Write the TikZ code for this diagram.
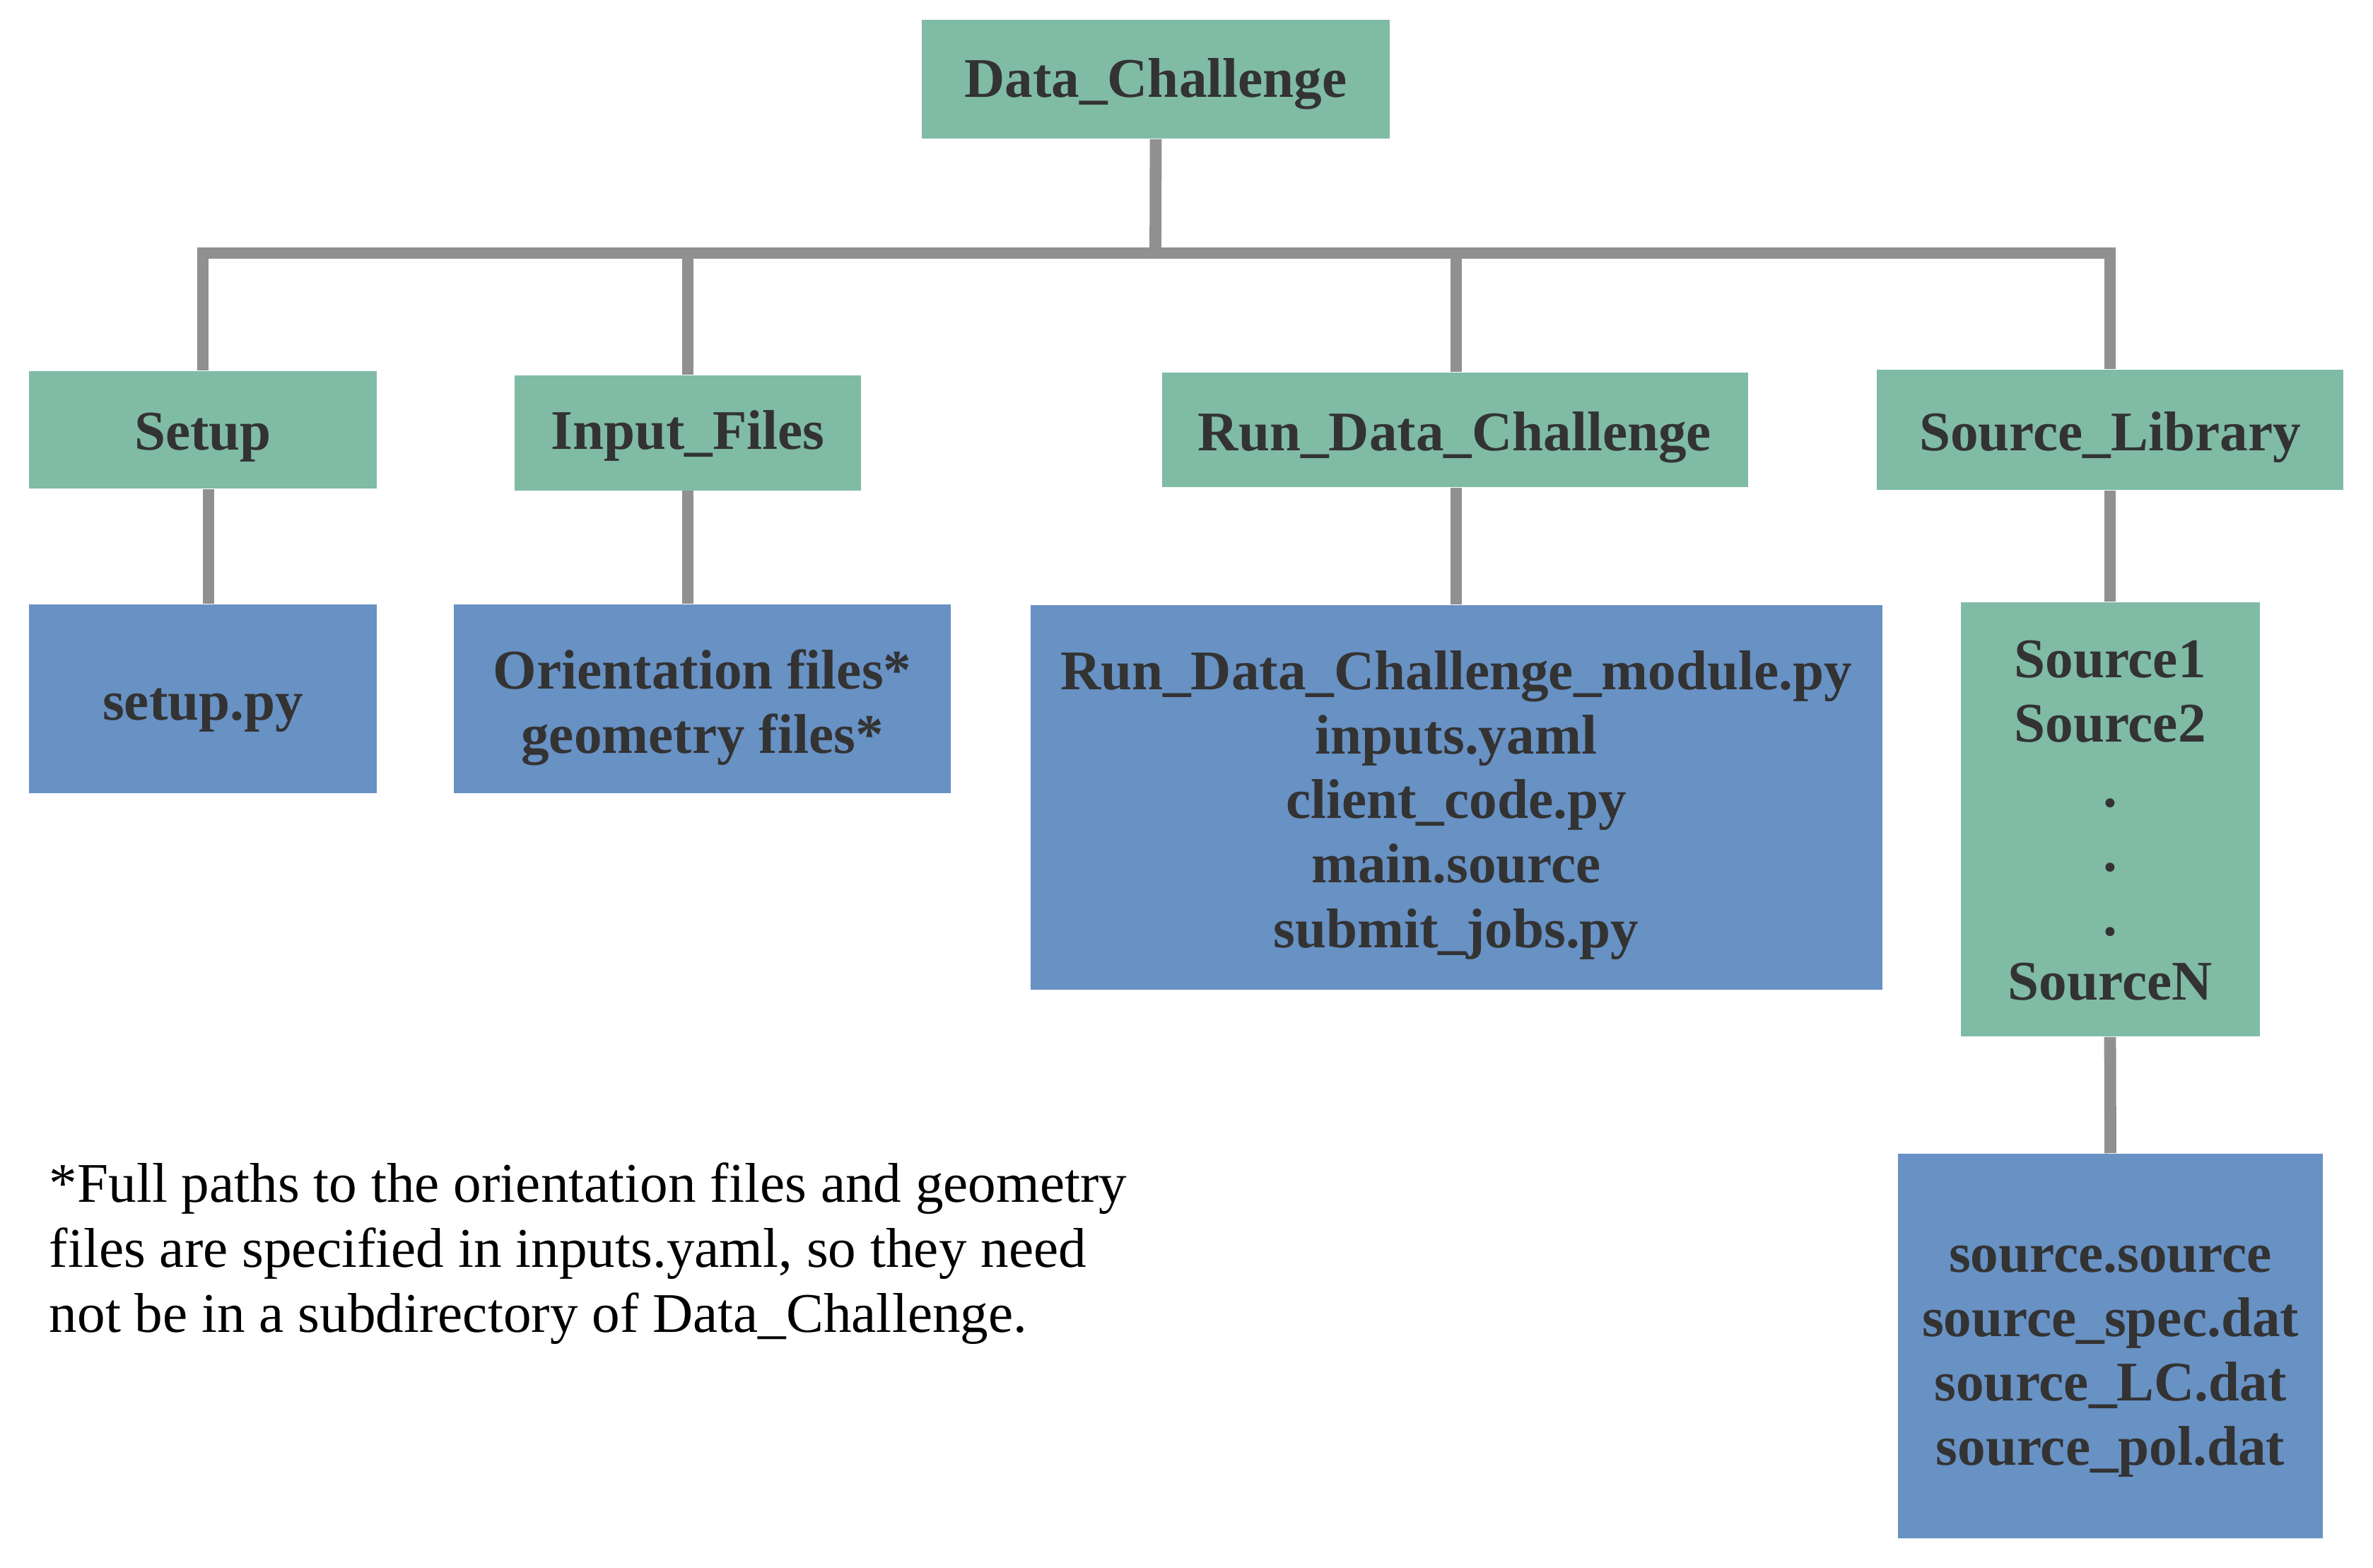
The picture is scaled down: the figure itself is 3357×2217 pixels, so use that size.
\documentclass[tikz,border=0pt]{standalone}
\usepackage{fontspec}
\setmainfont{Liberation Serif}
\definecolor{boxgreen}{HTML}{80BBA5}
\definecolor{boxblue}{HTML}{6891C4}
\definecolor{linegray}{HTML}{909090}
\definecolor{textgray}{HTML}{333333}
\begin{document}
\begin{tikzpicture}[x=0.25pt,y=-0.25pt,
  box/.style={rectangle, inner sep=0pt},
  gbox/.style={box, fill=boxgreen},
  bbox/.style={box, fill=boxblue},
  lbl/.style={inner sep=0pt, align=center, text=textgray,
    font=\bfseries\fontsize{19.8}{22.8}\selectfont},
  conn/.style={draw=linegray, line width=4.2pt},
  note/.style={inner sep=0pt, align=left, anchor=north west, text=black,
    font=\fontsize{19.8}{23}\selectfont}]
\useasboundingbox (0,0) rectangle (3357,2217);

\coordinate (bus) at (1634.5,358);
\node[gbox, minimum width=165.5pt, minimum height=42pt,
  label={[lbl, name=dc-t, yshift=-1.6pt]center:Data\_Challenge}] (dc) at (1635,112) {};
\node[gbox, minimum width=123pt, minimum height=41.5pt,
  label={[lbl, name=setup-t, yshift=-2.7pt]center:Setup}] (setup) at (287,608) {};
\node[gbox, minimum width=122.5pt, minimum height=40.75pt,
  label={[lbl, name=input-t, yshift=-1.1pt]center:Input\_Files}] (input) at (973,612) {};
\node[gbox, minimum width=207.25pt, minimum height=40.5pt,
  label={[lbl, name=run-t, yshift=-2.7pt]center:Run\_Data\_Challenge}] (run) at (2058,608) {};
\node[gbox, minimum width=165pt, minimum height=42.5pt,
  label={[lbl, name=srclib-t, yshift=-2.7pt]center:Source\_Library}] (srclib) at (2985,608) {};

\node[bbox, minimum width=123pt, minimum height=66.75pt,
  label={[lbl, name=setuppy-t, yshift=-4.3pt]center:setup.py}] (setuppy) at (287,988) {};
\node[bbox, minimum width=175.75pt, minimum height=66.75pt,
  label={[lbl, name=orient-t, yshift=-3.2pt]center:{Orientation files*\\geometry files*}}] (orient) at (993.5,988) {};
\node[bbox, minimum width=301.25pt, minimum height=136pt,
  label={[lbl, name=runmod-t, yshift=-2.7pt]center:{Run\_Data\_Challenge\_module.py\\inputs.yaml\\client\_code.py\\main.source\\submit\_jobs.py}}] (runmod) at (2060,1128) {};
\node[gbox, minimum width=105.75pt, minimum height=153.5pt,
  label={[lbl, name=sources-t, yshift=-0.5pt]center:{Source1\\Source2\\.\\.\\.\\SourceN}}] (sources) at (2985,1159) {};
\node[bbox, minimum width=150.25pt, minimum height=136pt,
  label={[lbl, name=srcfiles-t, yshift=-5.4pt]center:{source.source\\source\_spec.dat\\source\_LC.dat\\source\_pol.dat}}] (srcfiles) at (2985.5,1904) {};

\draw[conn] (dc.south) -- (bus);
\draw[conn] (setup.north) |- (bus) -| (srclib.north);
\draw[conn] (input.north) -- (input.north |- bus);
\draw[conn] ([xshift=0.5pt]run.north |- bus) -- ([xshift=0.5pt]run.north);
\draw[conn] ([xshift=2pt]setup.south) -- ([xshift=2pt]setup.south |- setuppy.north);
\draw[conn] (input.south) -- (input.south |- orient.north);
\draw[conn] (runmod.north |- run.south) -- (runmod.north);
\draw[conn] (srclib.south) -- (sources.north);
\draw[conn] (sources.south) -- (srcfiles.north);

\node[note] (footnote) at (69,1644) {*Full paths to the orientation files and geometry\\files are specified in inputs.yaml, so they need\\not be in a subdirectory of Data\_Challenge.};
\end{tikzpicture}
\end{document}
